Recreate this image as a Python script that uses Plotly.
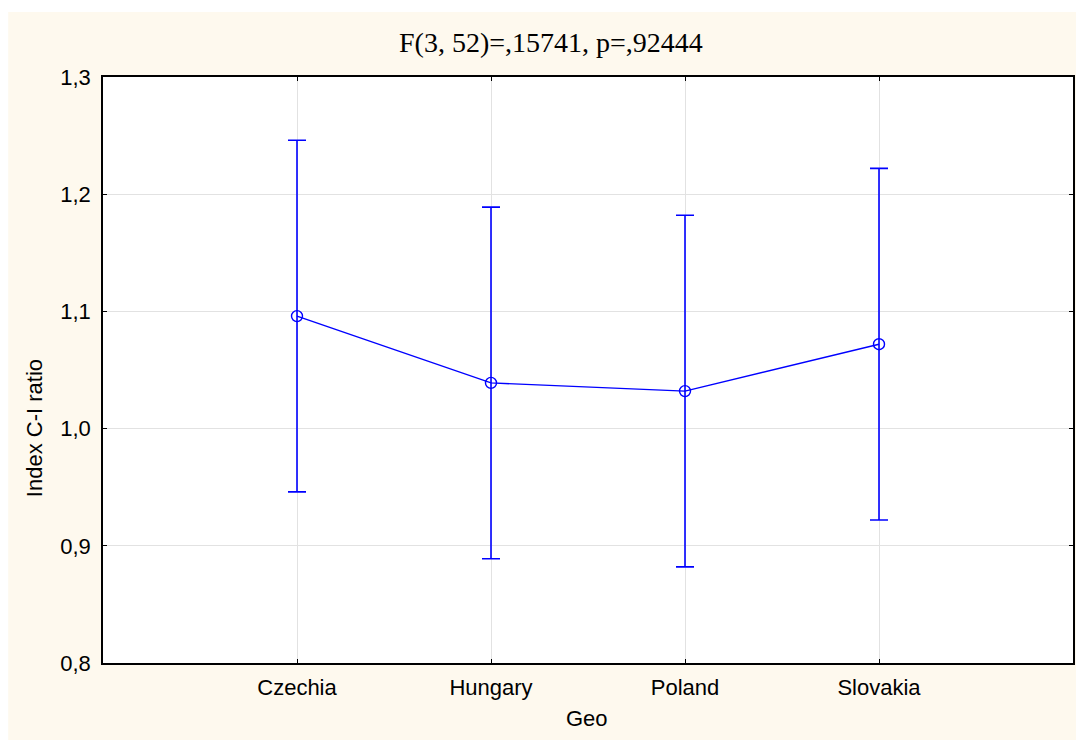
import plotly.graph_objects as go

# Group means of the Index C-I ratio by country, with their interval half-widths
geo = ["Czechia", "Hungary", "Poland", "Slovakia"]
means = [1.096, 1.039, 1.032, 1.072]
half_width = [0.150, 0.150, 0.150, 0.150]
y_ticks = [0.8, 0.9, 1.0, 1.1, 1.2, 1.3]

BLUE = "#0000FF"
CREAM = "#FEF9EE"

fig = go.Figure()
fig.add_trace(go.Scatter(
    x=geo,
    y=means,
    mode="lines+markers",
    line=dict(color=BLUE, width=1.4),
    marker=dict(symbol="circle-open", size=11, color=BLUE, line=dict(width=1.4)),
    error_y=dict(type="data", array=half_width, symmetric=True,
                 color=BLUE, thickness=1.6, width=9),
    showlegend=False,
))

W, H = 1078, 742
L, R, T, B = 103, 3, 77, 79
pw, ph = W - L - R, H - T - B

def px_to_paper_x(px):
    return (px - L) / pw

def px_to_paper_y(py):
    return (H - B - py) / ph

# cream frame behind the chart, white plotting area on top of it
fig.add_shape(type="rect", xref="paper", yref="paper", layer="below",
              x0=px_to_paper_x(8), x1=px_to_paper_x(1078),
              y0=px_to_paper_y(740), y1=px_to_paper_y(12),
              fillcolor=CREAM, line=dict(width=0))
fig.add_shape(type="rect", xref="paper", yref="paper", layer="below",
              x0=0, x1=1, y0=0, y1=1,
              fillcolor="white", line=dict(width=0))

axis_font = dict(family="Liberation Sans, Arial, sans-serif", size=22, color="black")
title_font = dict(family="Liberation Serif, Times New Roman, serif", size=28, color="black")

# title and axis titles
fig.add_annotation(text="F(3, 52)=,15741, p=,92444", font=title_font,
                   xref="paper", yref="paper", showarrow=False,
                   x=px_to_paper_x(552), y=px_to_paper_y(42),
                   xanchor="center", yanchor="middle")
fig.add_annotation(text="Geo", font=axis_font,
                   xref="paper", yref="paper", showarrow=False,
                   x=px_to_paper_x(588), y=px_to_paper_y(718),
                   xanchor="center", yanchor="middle")
fig.add_annotation(text="Index C-I ratio", font=axis_font, textangle=-90,
                   xref="paper", yref="paper", showarrow=False,
                   x=px_to_paper_x(35), y=px_to_paper_y(428),
                   xanchor="center", yanchor="middle")

fig.update_layout(
    width=W, height=H,
    margin=dict(l=L, r=R, t=T, b=B),
    paper_bgcolor="white",
    plot_bgcolor="white",
    separators=", ",
    font=axis_font,
)
fig.update_xaxes(
    range=[-1, 4],
    tickmode="array", tickvals=geo,
    showgrid=True, gridcolor="#E2E2E2", gridwidth=1,
    showline=True, linecolor="black", linewidth=1.5, mirror="ticks",
    ticks="inside", ticklen=4, tickcolor="black",
    ticklabelstandoff=4,
    tickfont=axis_font,
    zeroline=False,
)
fig.update_yaxes(
    range=[0.8, 1.3],
    tickmode="array", tickvals=y_ticks, tickformat=".1f",
    showgrid=True, gridcolor="#E2E2E2", gridwidth=1,
    showline=True, linecolor="black", linewidth=1.5, mirror="ticks",
    ticks="inside", ticklen=4, tickcolor="black",
    ticklabelstandoff=6,
    tickfont=axis_font,
    zeroline=False,
)

fig.write_html("out.html")
